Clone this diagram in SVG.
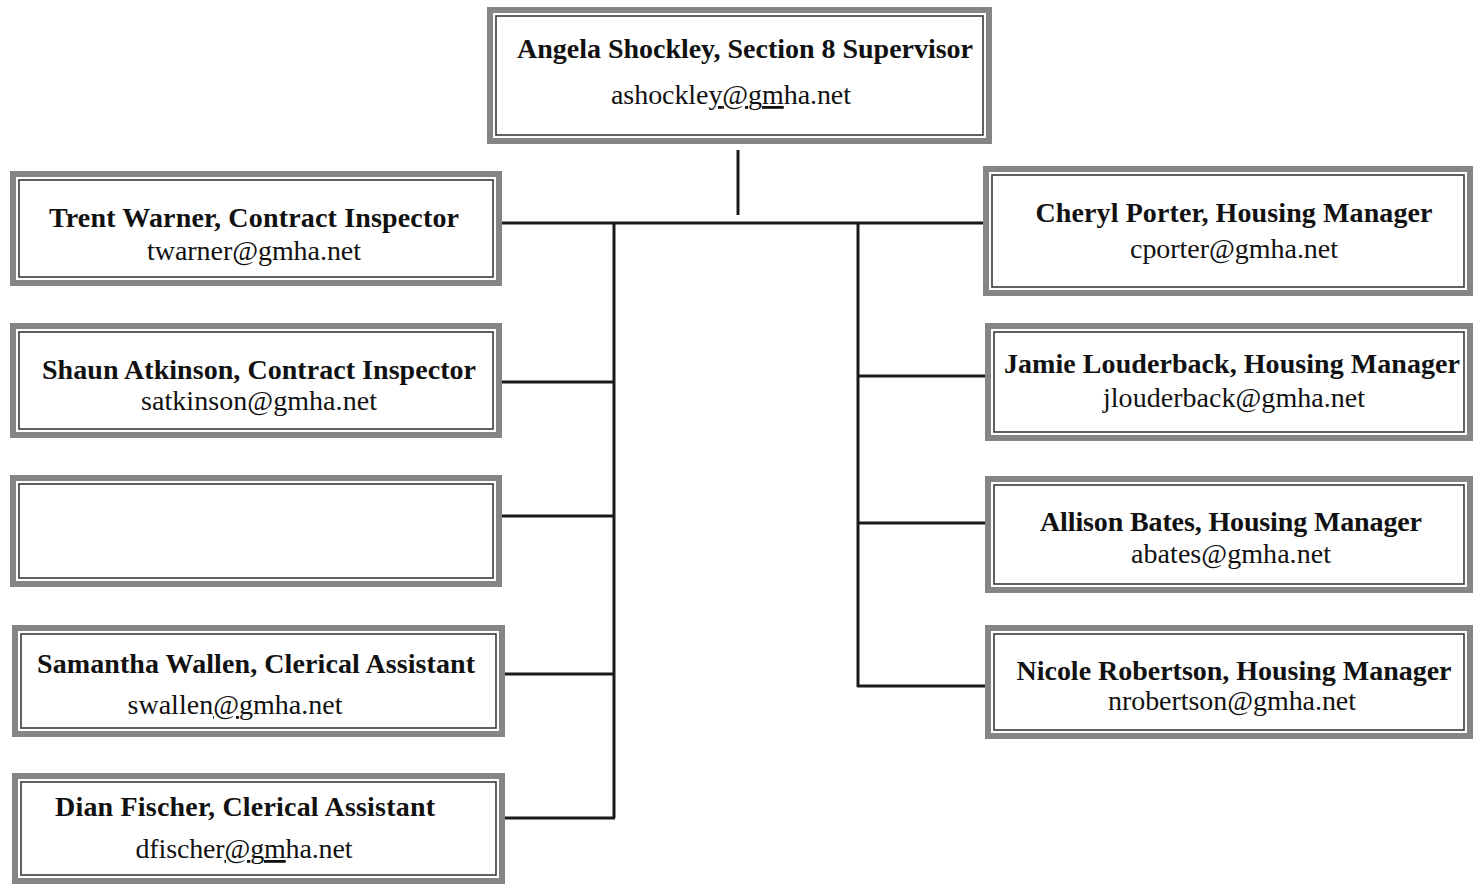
<svg xmlns="http://www.w3.org/2000/svg" width="1473" height="885" viewBox="0 0 1473 885">
<style>
.band{fill:#fff;stroke:#858585;stroke-width:6}
.inner{fill:none;stroke:#3a3a3a;stroke-width:1.6}
.nm{font-family:"Liberation Serif","Times New Roman",serif;font-weight:bold;font-size:28px;fill:#111;text-anchor:middle}
.em{font-family:"Liberation Serif","Times New Roman",serif;font-size:28px;fill:#111;text-anchor:middle}
.ul{text-decoration:underline}
.conn{stroke:#1a1a1a;stroke-width:3;fill:none}
</style>
<rect width="1473" height="885" fill="#fff"/>
<g id="connectors">
<line class="conn" x1="738" y1="150" x2="738" y2="215"/>
<line class="conn" x1="502" y1="223" x2="985" y2="223"/>
<line class="conn" x1="614" y1="223" x2="614" y2="818"/>
<line class="conn" x1="858" y1="223" x2="858" y2="687"/>
<line class="conn" x1="502" y1="382" x2="615" y2="382"/>
<line class="conn" x1="502" y1="516" x2="615" y2="516"/>
<line class="conn" x1="505" y1="674" x2="615" y2="674"/>
<line class="conn" x1="505" y1="818" x2="615" y2="818"/>
<line class="conn" x1="857" y1="376" x2="985" y2="376"/>
<line class="conn" x1="857" y1="523" x2="985" y2="523"/>
<line class="conn" x1="857" y1="686" x2="985" y2="686"/>
</g>
<g id="node-shockley">
<rect class="band" x="490" y="10" width="499" height="131"/>
<rect class="inner" x="496" y="16" width="487" height="119"/>
<text class="nm" x="745" y="58" textLength="456">Angela Shockley, Section 8 Supervisor</text>
<text class="em" x="731" y="104" textLength="240">ashockle<tspan class="ul">y@gm</tspan>ha.net</text>
</g>
<g id="node-warner">
<rect class="band" x="13" y="174" width="486" height="109"/>
<rect class="inner" x="19" y="180" width="474" height="97"/>
<text class="nm" x="254" y="227" textLength="410">Trent Warner, Contract Inspector</text>
<text class="em" x="254" y="260" textLength="214">twarner@gmha.net</text>
</g>
<g id="node-atkinson">
<rect class="band" x="13" y="326" width="486" height="109"/>
<rect class="inner" x="19" y="332" width="474" height="97"/>
<text class="nm" x="259" y="379" textLength="434">Shaun Atkinson, Contract Inspector</text>
<text class="em" x="259" y="410" textLength="236">satkinson@gmha.net</text>
</g>
<g id="node-blank">
<rect class="band" x="13" y="478" width="486" height="106"/>
<rect class="inner" x="19" y="484" width="474" height="94"/>
</g>
<g id="node-wallen">
<rect class="band" x="15" y="628" width="487" height="106"/>
<rect class="inner" x="21" y="634" width="475" height="94"/>
<text class="nm" x="256" y="673" textLength="438">Samantha Wallen, Clerical Assistant</text>
<text class="em" x="235" y="714" textLength="215">swallen<tspan class="ul">@g</tspan>mha.net</text>
</g>
<g id="node-fischer">
<rect class="band" x="15" y="776" width="487" height="105"/>
<rect class="inner" x="21" y="782" width="475" height="93"/>
<text class="nm" x="245" y="816" textLength="380">Dian Fischer, Clerical Assistant</text>
<text class="em" x="244" y="858" textLength="217">dfischer<tspan class="ul">@gm</tspan>ha.net</text>
</g>
<g id="node-porter">
<rect class="band" x="986" y="169" width="484" height="124"/>
<rect class="inner" x="992" y="175" width="472" height="112"/>
<text class="nm" x="1234" y="222" textLength="397">Cheryl Porter, Housing Manager</text>
<text class="em" x="1234" y="258" textLength="208">cporter@gmha.net</text>
</g>
<g id="node-louderback">
<rect class="band" x="988" y="326" width="482" height="112"/>
<rect class="inner" x="994" y="332" width="470" height="100"/>
<text class="nm" x="1232" y="373" textLength="456">Jamie Louderback, Housing Manager</text>
<text class="em" x="1234" y="407" textLength="262">jlouderback@gmha.net</text>
</g>
<g id="node-bates">
<rect class="band" x="988" y="479" width="482" height="111"/>
<rect class="inner" x="994" y="485" width="470" height="99"/>
<text class="nm" x="1231" y="531" textLength="382">Allison Bates, Housing Manager</text>
<text class="em" x="1231" y="563" textLength="200">abates@gmha.net</text>
</g>
<g id="node-robertson">
<rect class="band" x="988" y="628" width="482" height="108"/>
<rect class="inner" x="994" y="634" width="470" height="96"/>
<text class="nm" x="1234" y="680" textLength="435">Nicole Robertson, Housing Manager</text>
<text class="em" x="1232" y="710" textLength="248">nrobertson@gmha.net</text>
</g>
</svg>
